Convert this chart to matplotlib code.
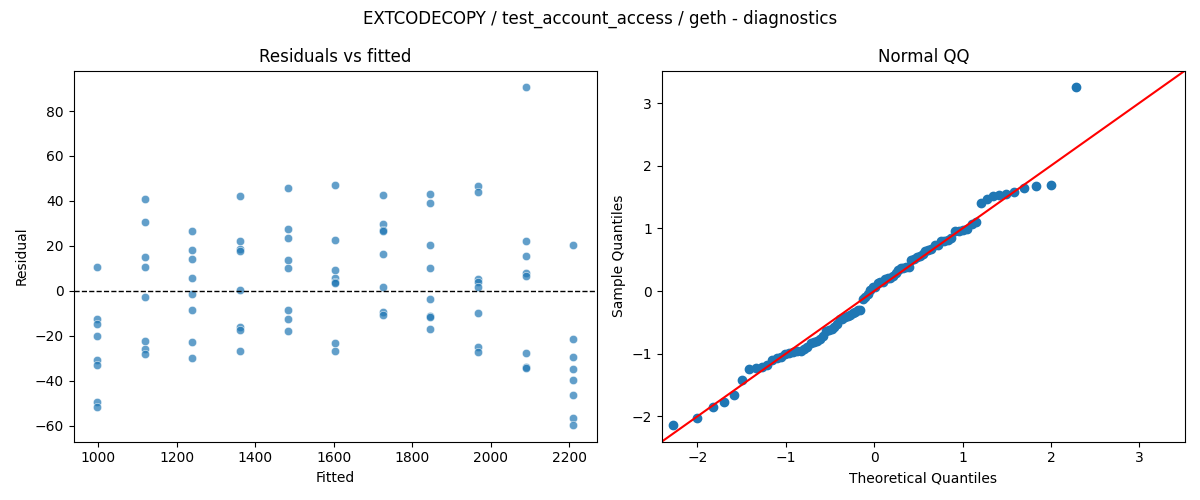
import numpy as np
import matplotlib
matplotlib.use("Agg")
import matplotlib.pyplot as plt
import seaborn as sns
from statistics import NormalDist

# fitted levels (one per group) and residuals
fitted_levels = [998, 1119, 1240, 1362, 1483, 1604, 1725, 1846, 1968, 2089, 2210]
res_1 = [10.5, -12.6, -14.8, -20.0, -30.7, -33.0, -49.5, -51.9]
res_2 = [40.7, 30.5, 15.0, 10.5, -2.8, -22.4, -25.8, -28.0]
res_3 = [26.5, 18.1, 14.1, 5.6, -1.5, -8.4, -22.8, -29.8]
res_4 = [42.2, 22.1, 18.7, 17.5, 0.4, -16.3, -17.5, -26.8]
res_5 = [45.6, 27.4, 23.4, 13.6, 10.1, -8.4, -12.6, -17.8]
res_6 = [47.0, 22.5, 9.3, 5.6, 3.7, 3.3, -23.3, -26.8]
res_7 = [42.5, 29.6, 27.0, 26.6, 16.3, 1.6, -9.5, -10.7]
res_8 = [43.0, 39.0, 20.3, 10.1, -3.7, -11.4, -11.6, -17.0]
res_9 = [46.7, 43.9, 5.2, 3.7, 1.6, -9.9, -25.0, -27.3]
res_10 = [90.5, 22.1, 15.4, 7.9, 6.7, -27.7, -33.9, -34.4]
res_11 = [20.3, -21.5, -29.5, -34.8, -39.7, -46.4, -56.6, -59.7]

groups = [res_1, res_2, res_3, res_4, res_5, res_6, res_7, res_8, res_9, res_10, res_11]
fitted = np.concatenate([[f] * len(g) for f, g in zip(fitted_levels, groups)])
resid = np.concatenate(groups)

fig, axes = plt.subplots(1, 2, figsize=(12, 5), dpi=100)

# residuals vs fitted
ax = axes[0]
sns.scatterplot(x=fitted, y=resid, ax=ax, alpha=0.7)
ax.axhline(0, color="k", ls="--", lw=1)
ax.set_xlabel("Fitted")
ax.set_ylabel("Residual")
ax.set_title("Residuals vs fitted")

# normal QQ of standardized residuals
ax = axes[1]
n = len(resid)
sample_q = np.sort((resid - resid.mean()) / resid.std())
theo_q = np.array([NormalDist().inv_cdf(i / (n + 1)) for i in range(1, n + 1)])
ax.plot(theo_q, sample_q, "o", color="C0")
lo, hi = ax.get_ylim()
ax.plot([lo, hi], [lo, hi], "r-")
ax.set_xlim(lo, hi)
ax.set_ylim(lo, hi)
ax.set_xlabel("Theoretical Quantiles")
ax.set_ylabel("Sample Quantiles")
ax.set_title("Normal QQ")

fig.suptitle("EXTCODECOPY / test_account_access / geth - diagnostics")
fig.tight_layout()
fig.savefig("out.png")
